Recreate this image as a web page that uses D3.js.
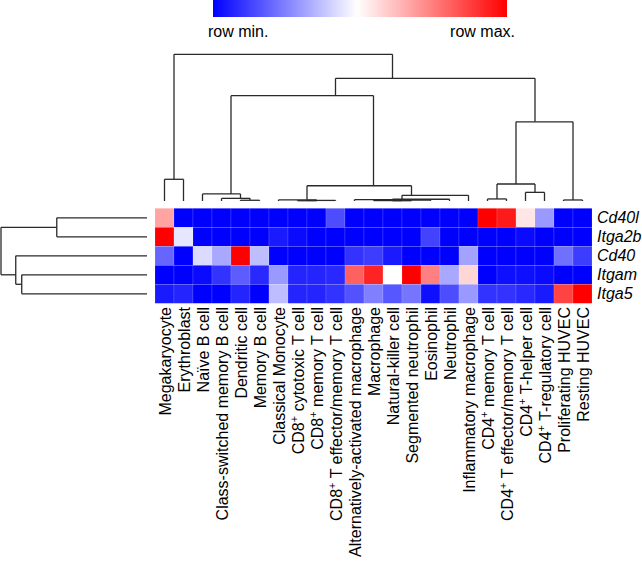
<!DOCTYPE html>
<html><head><meta charset="utf-8">
<script src="https://cdn.jsdelivr.net/npm/d3@7"></script>
<style>body{margin:0;background:#fff} text{font-family:"Liberation Sans",Arial,Helvetica,sans-serif}</style>
</head><body><svg id="c" width="642" height="569"></svg>
<script>
const columns = ["Megakaryocyte","Erythroblast","Naïve B cell","Class-switched memory B cell","Dendritic cell","Memory B cell","Classical Monocyte","CD8+ cytotoxic T cell","CD8+ memory T cell","CD8+ T effector/memory T cell","Alternatively-activated macrophage","Macrophage","Natural-killer cell","Segmented neutrophil","Eosinophil","Neutrophil","Inflammatory macrophage","CD4+ memory T cell","CD4+ T effector/memory T cell","CD4+ T-helper cell","CD4+ T-regulatory cell","Proliferating HUVEC","Resting HUVEC"];
const rowGenes = ["Cd40l","Itga2b","Cd40","Itgam","Itga5"];
// relative expression, 0 = row min, 1 = row max
const cd40l  = [0.68,0,0,0,0,0,0,0,0,0.15,0,0,0,0,0,0,0,1.0,0.95,0.55,0.3,0,0];
const itga2b = [1.0,0.45,0,0,0,0,0.05,0.02,0,0,0,0,0,0,0.13,0,0,0,0,0.02,0,0,0];
const cd40   = [0.2,0,0.43,0.33,1.0,0.37,0,0,0,0,0.1,0.12,0.05,0,0,0,0.32,0,0,0,0,0.22,0.12];
const itgam  = [0,0,0.02,0.1,0.18,0.08,0.3,0.07,0.07,0.08,0.81,0.93,0.5,1.0,0.75,0.33,0.58,0,0.03,0.03,0.02,0,0];
const itga5  = [0.05,0.07,0,0,0.07,0,0.37,0.07,0.07,0.1,0.16,0.25,0.17,0.23,0.03,0.15,0.3,0.1,0.1,0.08,0.05,0.87,1.0];
const legendLabels = ["row min.","row max."];
// dendrograms: leaves are indices, internal nodes have relative height h
const colTree = {h:1,c:[
  {h:0.148,c:[0,1]},
  {h:0.836,c:[
    {h:0.718,c:[
      {h:0.048,c:[2,{h:0.018,c:[3,{h:0.005,c:[4,5]}]}]},
      {h:0.104,c:[
        {h:0.008,c:[6,{h:0.004,c:[{h:0.002,c:[7,8]},9]}]},
        {h:0.039,c:[{h:0.012,c:[{h:0.009,c:[10,{h:0.006,c:[{h:0.003,c:[11,{h:0.002,c:[12,13]}]},14]}]},15]},16]}
      ]}
    ]},
    {h:0.54,c:[
      {h:0.116,c:[{h:0.014,c:[17,18]},{h:0.059,c:[19,20]}]},
      {h:0.007,c:[21,22]}
    ]}
  ]}
]};
const rowTree = {h:1,c:[{h:0.618,c:[0,1]},{h:0.899,c:[2,{h:0.858,c:[3,4]}]}]};

const matrix = [cd40l, itga2b, cd40, itgam, itga5];
const svg = d3.select("#c");
const x = d3.scaleBand().domain(d3.range(columns.length)).range([155,592]);
const y = d3.scaleBand().domain(d3.range(rowGenes.length)).range([208.3,303.3]);
const color = d3.scaleLinear().domain([0,0.5,1]).range(["#0000ff","#ffffff","#ff0000"]);

// legend
const defs = svg.append("defs");
const grad = defs.append("linearGradient").attr("id","lg");
[[0,"#0000ff"],[0.49,"#ffffff"],[1,"#ff0000"]].forEach(s=>grad.append("stop").attr("offset",s[0]).attr("stop-color",s[1]));
const lx = d3.scaleLinear().domain([0,1]).range([213,507]);
svg.append("rect").attr("x",lx(0)).attr("y",0).attr("width",lx(1)-lx(0)).attr("height",17).attr("fill","url(#lg)");
svg.append("text").attr("x",lx(0)-5).attr("y",37).attr("font-size",16).text(legendLabels[0]);
svg.append("text").attr("x",lx(1)+8).attr("y",37).attr("font-size",16).attr("text-anchor","end").text(legendLabels[1]);

// heatmap
const g = svg.append("g");
matrix.forEach((row,r)=>{
  g.selectAll(null).data(row).enter().append("rect")
    .attr("x",(d,i)=>x(i)).attr("y",y(r)).attr("width",x.bandwidth()).attr("height",y.bandwidth())
    .attr("fill",d=>color(d)).attr("stroke","rgba(255,255,255,0.22)").attr("stroke-width",0.6);
});

// dendrogram drawing
function drawTree(tree, posScale, hScale, vertical){
  const root = d3.hierarchy(tree, d => typeof d === "number" ? null : d.c);
  const pos = n => {
    if (!n.children) return posScale(n.data) + (vertical ? x.bandwidth() : y.bandwidth())/2;
    const lv = n.leaves().map(l=>l.data);
    const a = posScale(d3.min(lv)), b = posScale(d3.max(lv));
    return (a+b)/2 + (vertical ? x.bandwidth() : y.bandwidth())/2;
  };
  const ht = n => n.children ? n.data.h : 0;
  const dg = svg.append("g").attr("stroke","#2a2a2a").attr("stroke-width",1.3).attr("fill","none");
  root.each(n=>{
    if(!n.children) return;
    const hy = hScale(ht(n));
    const cps = n.children.map(pos);
    if (vertical){
      dg.append("line").attr("x1",d3.min(cps)).attr("x2",d3.max(cps)).attr("y1",hy).attr("y2",hy);
      n.children.forEach((c,i)=>dg.append("line").attr("x1",cps[i]).attr("x2",cps[i]).attr("y1",hy).attr("y2",hScale(ht(c))));
    } else {
      dg.append("line").attr("y1",d3.min(cps)).attr("y2",d3.max(cps)).attr("x1",hy).attr("x2",hy);
      n.children.forEach((c,i)=>dg.append("line").attr("y1",cps[i]).attr("y2",cps[i]).attr("x1",hy).attr("x2",hScale(ht(c))));
    }
  });
}
drawTree(colTree, x, d3.scaleLinear().domain([0,1]).range([201,54.3]), true);
drawTree(rowTree, y, d3.scaleLinear().domain([0,1]).range([147,1]), false);

// row labels
svg.selectAll(null).data(rowGenes).enter().append("text")
  .attr("x",597).attr("y",(d,i)=>y(i)+y.bandwidth()/2).attr("dy","0.35em")
  .attr("font-size",16).attr("font-style","italic").text(d=>d);

// column labels
columns.forEach((name,i)=>{
  const t = svg.append("text").attr("font-size",16).attr("text-anchor","end")
    .attr("transform",`translate(${x(i)+x.bandwidth()/2+0.5},307) rotate(-90)`).attr("dy","0.35em");
  const parts = name.split(/(CD[48])\+/);
  parts.forEach(p=>{
    if (p==="") return;
    if (/^CD[48]$/.test(p)){
      t.append("tspan").text(p);
      t.append("tspan").attr("font-size",11).attr("baseline-shift","super").text("+");
    } else t.append("tspan").text(p);
  });
});
</script></body></html>
